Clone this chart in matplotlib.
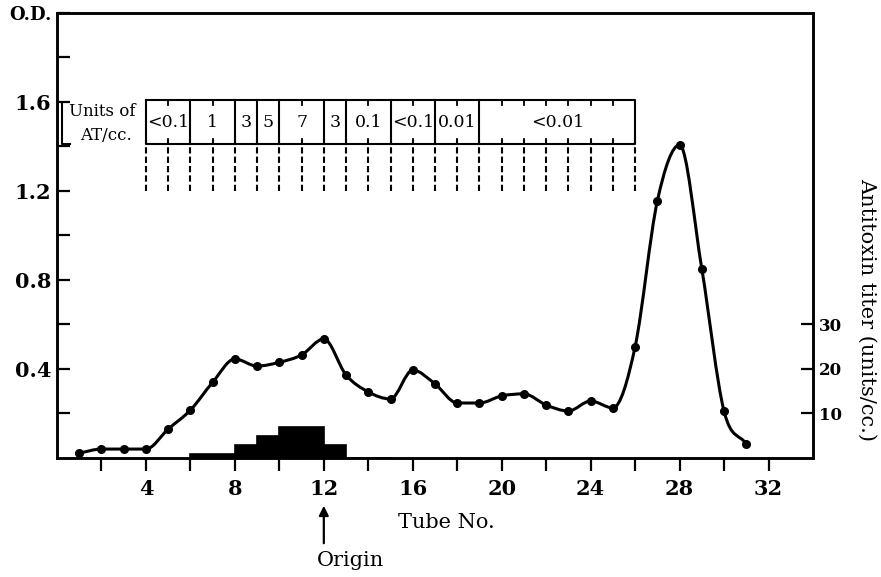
import matplotlib
matplotlib.use('Agg')
import matplotlib.pyplot as plt
from matplotlib.path import Path
from matplotlib.patches import PathPatch
from matplotlib import transforms

# optical density per tube
tubes = list(range(1, 32))
od = [0.022, 0.04, 0.04, 0.04, 0.13, 0.215, 0.34, 0.445, 0.413, 0.43,
      0.463, 0.535, 0.373, 0.297, 0.265, 0.395, 0.333, 0.247, 0.247, 0.279,
      0.288, 0.238, 0.211, 0.256, 0.225, 0.5, 1.155, 1.407, 0.85, 0.21, 0.063]

# antitoxin titer bars (units/cc.)
bar_left = [6, 8, 9, 10, 12, 13]
bar_width = [2, 1, 1, 2, 1, 2]
bar_height = [1, 3, 5, 7, 3, 0.1]

# table of units of AT/cc.
cell_edges = [4, 6, 8, 9, 10, 12, 13, 15, 17, 19, 26]
cell_labels = ['<0.1', '1', '3', '5', '7', '3', '0.1', '<0.1', '0.01', '<0.01']

x_ticks = list(range(2, 33, 2))
x_labels = ['' if t % 4 else str(t) for t in x_ticks]
y_ticks = [0.2, 0.4, 0.6, 0.8, 1.0, 1.2, 1.4, 1.6, 1.8, 2.0]
y_labels = ['', '0.4', '', '0.8', '', '1.2', '', '1.6', '', 'O.D.']
titer_ticks = [10, 20, 30]

FONT = 'DejaVu Serif'
plt.rcParams['font.family'] = FONT


def smooth_path(xs, ys):
    # monotone cubic through the points (flat at local peaks), as bezier segments
    n = len(xs)
    d = [(ys[i + 1] - ys[i]) / (xs[i + 1] - xs[i]) for i in range(n - 1)]
    m = [d[0]] + [0.0] * (n - 2) + [d[-1]]
    for i in range(1, n - 1):
        if d[i - 1] * d[i] > 0:
            m[i] = (d[i - 1] + d[i]) / 2
    verts = [(xs[0], ys[0])]
    codes = [Path.MOVETO]
    for i in range(n - 1):
        h = xs[i + 1] - xs[i]
        verts += [(xs[i] + h / 3, ys[i] + m[i] * h / 3),
                  (xs[i + 1] - h / 3, ys[i + 1] - m[i + 1] * h / 3),
                  (xs[i + 1], ys[i + 1])]
        codes += [Path.CURVE4] * 3
    return Path(verts, codes)


fig = plt.figure(figsize=(8.81, 5.77), dpi=100)
ax = fig.add_axes([0.0647, 0.2063, 0.8581, 0.7712])
ax.set_xlim(0, 34)
ax.set_ylim(0, 2.0)

for s in ax.spines.values():
    s.set_linewidth(1.8)

ax.add_patch(PathPatch(smooth_path(tubes, od), fill=False, lw=2.2, color='black', zorder=3))
ax.plot(tubes, od, 'o', color='black', ms=5.5, zorder=4)

ax.set_xticks(x_ticks)
ax.set_xticklabels(x_labels, fontsize=15, fontweight='bold')
ax.tick_params(axis='x', direction='out', length=9, width=1.6, pad=6)
ax.set_yticks(y_ticks)
ax.set_yticklabels(y_labels, fontsize=15, fontweight='bold')
ax.tick_params(axis='y', direction='in', length=9, width=1.6, pad=4)
ax.get_yticklabels()[-1].set_fontsize(13)

# table box
top, bot = 1.61, 1.41
ax.plot([cell_edges[0], cell_edges[-1], cell_edges[-1], cell_edges[0], cell_edges[0]],
        [top, top, bot, bot, top], color='black', lw=1.5)
for e in cell_edges[1:-1]:
    ax.plot([e, e], [bot, top], color='black', lw=1.5)
for t in range(cell_edges[0] + 1, cell_edges[-1]):
    ax.plot([t, t], [top, top - 0.025], color='black', lw=1.3)
    ax.plot([t, t], [bot, bot + 0.025], color='black', lw=1.3)
for i, lab in enumerate(cell_labels):
    xc = (cell_edges[i] + cell_edges[i + 1]) / 2
    ax.text(xc, (top + bot) / 2, lab, ha='center', va='center', fontsize=12.5)
for t in range(cell_edges[0], cell_edges[-1] + 1):
    ax.plot([t, t], [1.20, 1.43], color='black', lw=1.5, dashes=(3, 1.5))

# bracket for the table label
ax.plot([0.22, 0.22, 0.6], [1.6, bot, bot], color='black', lw=1.5)
ax.text(2.05, 1.555, 'Units of', ha='center', va='center', fontsize=12)
ax.text(2.2, 1.45, 'AT/cc.', ha='center', va='center', fontsize=12)

# axis labels
trans = transforms.blended_transform_factory(ax.transData, fig.transFigure)
ax.text(17.5, 1 - 522 / 577, 'Tube No.', transform=trans, ha='center', va='center', fontsize=15)
ax.annotate('', xy=(12, 1 - 503 / 577), xycoords=trans,
            xytext=(12, 1 - 546 / 577), textcoords=trans,
            arrowprops=dict(arrowstyle='-|>', color='black', lw=1.6, mutation_scale=14))
ax.text(11.7, 1 - 560 / 577, 'Origin', transform=trans, ha='left', va='center', fontsize=15)

# antitoxin titer axis
ax2 = ax.twinx()
ax2.set_ylim(0, 100)
ax2.bar(bar_left, bar_height, width=bar_width, align='edge', color='black',
        edgecolor='black', lw=1.2)
ax2.set_yticks(titer_ticks)
ax2.set_yticklabels([str(t) for t in titer_ticks], fontsize=12, fontweight='bold')
ax2.tick_params(axis='y', direction='in', length=9, width=1.6, pad=4)
for s in ax2.spines.values():
    s.set_linewidth(1.8)

fig.text(867 / 881, 1 - 310 / 577, 'Antitoxin titer (units/cc.)', rotation=-90,
         ha='center', va='center', fontsize=15)

fig.savefig('out.png', dpi=100)
